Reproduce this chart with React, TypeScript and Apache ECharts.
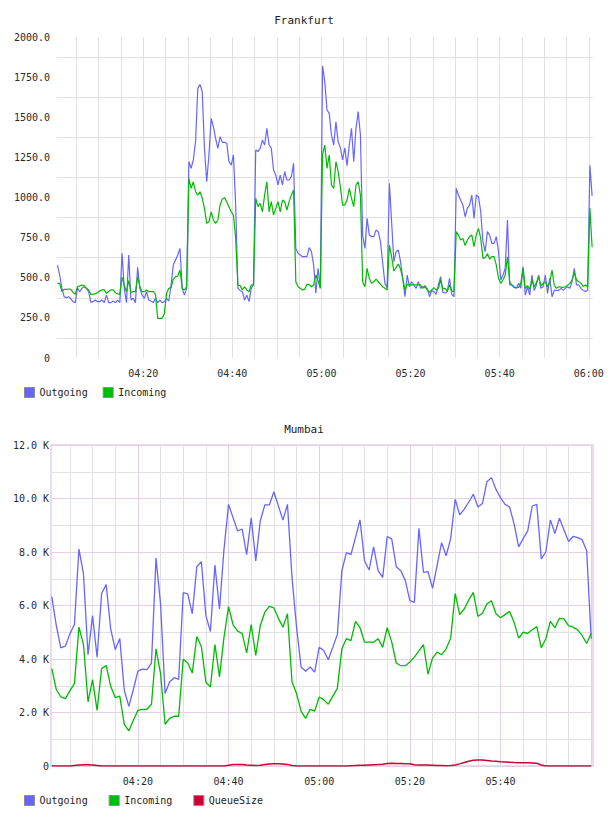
import { useEffect, useRef } from 'react';
import * as echarts from 'echarts';

// Frankfurt: one sample every 30 s
const FRA_START = '04:00:45';
const FRA_STEP_SEC = 30;
const fraOutgoing = [
  579, 517, 434, 382, 376, 382, 368, 351, 345, 438, 413,
  434, 444, 434, 413, 347, 351, 361, 351, 351, 361,
  345, 392, 345, 345, 355, 345, 361, 345, 652, 434,
  345, 642, 361, 372, 345, 565, 434, 392, 372, 413,
  361, 355, 345, 372, 345, 361, 345, 351, 372, 355,
  455, 579, 611, 642, 683, 434, 392, 434, 1223, 1182,
  1234, 1348, 1680, 1705, 1659, 1306, 1098, 1265, 1493, 1441,
  1369, 1306, 1379, 1344, 1344, 1338, 1223, 1202, 1265, 953,
  434, 421, 413, 361, 392, 351, 434, 455, 1296, 1286,
  1306, 1358, 1327, 1431, 1327, 1306, 1171, 1140, 1078, 1140,
  1078, 1161, 1109, 1109, 1130, 1213, 683, 652, 642, 631,
  631, 631, 688, 663, 579, 403, 559, 434, 1820, 1722,
  1545, 1524, 1389, 1327, 1472, 1348, 1310, 1234, 1310, 1198,
  1327, 1431, 1223, 1431, 1535, 1389, 766, 683, 870, 766,
  756, 756, 797, 787, 725, 590, 465, 438, 1088, 849,
  600, 663, 673, 600, 496, 382, 517, 444, 475, 455,
  434, 475, 434, 444, 438, 434, 382, 421, 413, 397,
  455, 507, 409, 405, 413, 496, 397, 382, 1057, 1015,
  984, 953, 880, 932, 953, 1015, 870, 1015, 1005, 911,
  725, 663, 787, 766, 714, 714, 756, 663, 486, 517,
  559, 860, 455, 455, 444, 434, 465, 434, 569, 392,
  444, 392, 517, 421, 455, 517, 434, 444, 517, 403,
  496, 382, 421, 421, 421, 434, 421, 434, 444, 434,
  475, 559, 455, 455, 434, 421, 415, 421, 1200, 1010,
];
const fraIncoming = [
  465, 465, 413, 428, 428, 430, 428, 409, 397, 444, 449,
  455, 451, 434, 424, 397, 397, 401, 407, 418, 424,
  424, 403, 415, 424, 424, 407, 399, 397, 503, 455,
  413, 482, 409, 413, 413, 507, 444, 413, 413, 424,
  413, 413, 415, 397, 247, 247, 247, 278, 403, 434,
  438, 492, 507, 511, 548, 434, 424, 444, 1119, 1057,
  1098, 1036, 1015, 1036, 995, 932, 839, 849, 911, 860,
  839, 860, 953, 991, 999, 974, 943, 911, 891, 745,
  455, 451, 424, 444, 424, 413, 455, 455, 995, 943,
  964, 911, 1015, 1098, 911, 974, 891, 932, 974, 911,
  984, 974, 922, 974, 1015, 1047, 475, 444, 434, 424,
  428, 459, 459, 444, 455, 517, 482, 434, 1265, 1327,
  1182, 1265, 1078, 1057, 1223, 1161, 1067, 953, 953, 984,
  1057, 995, 943, 1078, 1098, 1015, 475, 444, 559, 496,
  465, 475, 492, 475, 459, 444, 434, 424, 704, 631,
  542, 563, 586, 554, 496, 424, 459, 455, 455, 455,
  455, 455, 455, 434, 451, 424, 409, 424, 438, 424,
  434, 486, 430, 434, 417, 455, 417, 413, 787, 766,
  735, 745, 700, 735, 756, 766, 694, 766, 808, 745,
  621, 625, 650, 617, 631, 631, 579, 496, 465, 486,
  517, 631, 475, 455, 438, 438, 440, 465, 559, 434,
  451, 428, 486, 444, 469, 507, 449, 465, 475, 444,
  475, 548, 455, 434, 444, 442, 440, 444, 453, 465,
  486, 534, 486, 475, 465, 446, 455, 444, 934, 690,
];

// Mumbai: one sample every minute
const MUM_START = '04:01:00';
const MUM_STEP_SEC = 60;
const mumOutgoing = [
  6330, 5250, 4420, 4480, 4940, 5290, 8110, 7180, 4160, 5620,
  4070, 6450, 6780, 5130, 4350, 4770, 2830, 2230, 2860, 3550,
  3620, 3600, 3850, 7770, 6060, 2710, 3140, 3300, 3240, 6480,
  6430, 5690, 7450, 7640, 5620, 5030, 7510, 5870, 8110, 9780,
  9280, 8790, 8860, 7900, 9280, 7670, 9160, 9760, 9760, 10250,
  9720, 9190, 9780, 7050, 5190, 3700, 3540, 3700, 3510, 4440,
  4320, 3970, 4440, 4920, 7300, 7980, 7900, 8540, 9200, 7670,
  7330, 8190, 7300, 7050, 8580, 8480, 7450, 7300, 6930, 6180,
  6120, 8890, 7240, 7270, 6640, 7490, 8350, 7860, 8500, 9970,
  9390, 9600, 9870, 10160, 9680, 9810, 10630, 10780, 10340, 10030,
  9780, 9680, 9040, 8190, 8500, 8790, 9720, 9780, 7740, 8010,
  9200, 8690, 9260, 8820, 8390, 8580, 8540, 8460, 8050, 4760,
];
const mumIncoming = [
  3640, 2860, 2580, 2520, 2810, 3080, 5190, 4540, 2400, 3230,
  2080, 3640, 3760, 2980, 2560, 2610, 1560, 1310, 1710, 2080,
  2120, 2120, 2310, 4380, 3450, 1560, 1780, 1860, 1860, 3990,
  3850, 3480, 4840, 4470, 3140, 2950, 4540, 3330, 4820, 5960,
  5280, 5040, 4960, 4230, 5290, 4130, 5250, 5750, 5970, 5910,
  5520, 5190, 5690, 3140, 2710, 2050, 1780, 2120, 2050, 2580,
  2480, 2310, 2610, 2900, 4380, 4760, 4690, 5410, 5170, 4630,
  4630, 4630, 4760, 4440, 5170, 4630, 3850, 3750, 3750, 3890,
  4070, 4300, 4540, 3430, 4030, 4260, 4160, 4380, 4780, 6450,
  5660, 5870, 6210, 6490, 5590, 5710, 6060, 6180, 5690, 5540,
  5660, 5780, 5370, 4780, 5000, 4960, 5090, 5210, 4420, 4760,
  5410, 5170, 5520, 5500, 5250, 5190, 5090, 4880, 4580, 4960,
];
const mumQueue = [
  0, 0, 0, 0, 0, 20, 40, 50, 50, 40,
  20, 0, 0, 0, 0, 0, 0, 0, 0, 0,
  0, 0, 0, 0, 0, 0, 0, 0, 0, 0,
  0, 0, 0, 0, 0, 0, 0, 0, 0, 30,
  60, 60, 55, 40, 30, 20, 30, 60, 75, 80,
  80, 75, 60, 20, 0, 0, 0, 0, 0, 0,
  0, 0, 0, 0, 0, 0, 10, 20, 25, 30,
  40, 50, 55, 65, 90, 100, 95, 90, 85, 80,
  50, 40, 40, 35, 30, 20, 15, 10, 15, 40,
  80, 130, 180, 215, 220, 220, 210, 190, 175, 160,
  150, 140, 130, 125, 125, 120, 115, 100, 40, 0,
  0, 0, 0, 0, 0, 0, 0, 0, 0, 0,
];

// Time ranges shown on the x axes
const FRA_RANGE = ['04:00:39', '06:00:57'];
const MUM_RANGE = ['04:00:50', '06:00:24'];

// Vertical grid every five minutes, labels every twenty
const fiveMinuteMarks = [
  '04:05', '04:10', '04:15', '04:20', '04:25', '04:30', '04:35', '04:40',
  '04:45', '04:50', '04:55', '05:00', '05:05', '05:10', '05:15', '05:20',
  '05:25', '05:30', '05:35', '05:40', '05:45', '05:50', '05:55', '06:00',
];
const fraTimeLabels = ['04:20', '04:40', '05:00', '05:20', '05:40', '06:00'];
const mumMajorMarks = ['04:20', '04:40', '05:00', '05:20', '05:40', '06:00'];
const mumTimeLabels = ['04:20', '04:40', '05:00', '05:20', '05:40'];

const FONT = '"DejaVu Sans Mono", monospace';
const TEXT = '#2a2a2a';
const C_OUT = '#6666ff';
const C_IN = '#00bb00';
const C_QUEUE = '#cc0033';
const GREY = '#e2e2e2';
const PINK = '#e6cfe6';

// minutes after 04:00
const toMin = (s: string) => {
  const [h, m, sec] = s.split(':').map(Number);
  return (h - 4) * 60 + m + (sec || 0) / 60;
};
const pad = (n: number) => (n < 10 ? '0' + n : '' + n);
const fmtTime = (v: number) => {
  const t = Math.round(v);
  return pad(4 + Math.floor(t / 60)) + ':' + pad(t % 60);
};
const toPairs = (values: number[], start: string, stepSec: number) => {
  const t0 = toMin(start);
  return values.map((v, i) => [t0 + (i * stepSec) / 60, v]);
};

export default function App() {
  const ref = useRef<HTMLDivElement>(null);

  useEffect(() => {
    if (!ref.current) return;
    const chart = echarts.init(ref.current, null, { renderer: 'svg' });

    const labelStyle = { fontFamily: FONT, fontSize: 10, color: TEXT };
    const titleStyle = { fontFamily: FONT, fontSize: 11, fontWeight: 'normal' as const, color: '#222' };
    const legendBase = {
      icon: 'rect',
      itemWidth: 10,
      itemHeight: 10,
      itemStyle: { borderColor: '#8a8a8a', borderWidth: 1 },
      textStyle: { fontFamily: FONT, fontSize: 10, color: '#222' },
      selectedMode: false,
    };
    const lineSeries = (name: string, data: number[][], color: string, axis: number, xAxisIndex: number, width = 1.2) => ({
      name,
      type: 'line',
      xAxisIndex,
      yAxisIndex: axis,
      data,
      showSymbol: false,
      symbol: 'none',
      color,
      lineStyle: { color, width },
      emphasis: { disabled: true },
    });

    chart.setOption({
      animation: false,
      title: [
        { text: 'Frankfurt', left: 'center', top: 10, textStyle: titleStyle },
        { text: 'Mumbai', left: 'center', top: 419, textStyle: titleStyle },
      ],
      legend: [
        { ...legendBase, data: ['Outgoing', 'Incoming'], left: 19, top: 382, itemGap: 15 },
        { ...legendBase, data: ['Outgoing', 'Incoming', 'QueueSize'], left: 19, top: 790, itemGap: 21 },
      ],
      grid: [
        { left: 57, right: 15, top: 37, bottom: 458 },
        { left: 51, right: 15, top: 445, bottom: 50, show: true, borderColor: PINK, borderWidth: 1.5 },
      ],
      xAxis: [
        {
          gridIndex: 0,
          type: 'value',
          position: 'bottom',
          min: toMin(FRA_RANGE[0]),
          max: toMin(FRA_RANGE[1]),
          axisLine: { show: false },
          axisTick: { show: false, customValues: fiveMinuteMarks.map(toMin) },
          splitLine: { show: true, lineStyle: { color: GREY, width: 1 } },
          axisLabel: { ...labelStyle, margin: 10, customValues: fraTimeLabels.map(toMin), formatter: fmtTime },
        },
        {
          gridIndex: 1,
          type: 'value',
          position: 'bottom',
          min: toMin(MUM_RANGE[0]),
          max: toMin(MUM_RANGE[1]),
          axisLine: { show: false },
          axisTick: { show: false, customValues: fiveMinuteMarks.map(toMin) },
          splitLine: { show: true, lineStyle: { color: GREY, width: 1 } },
          axisLabel: { show: false },
        },
        {
          gridIndex: 1,
          type: 'value',
          position: 'bottom',
          offset: 0,
          min: toMin(MUM_RANGE[0]),
          max: toMin(MUM_RANGE[1]),
          axisLine: { show: false },
          axisTick: { show: false, customValues: mumMajorMarks.map(toMin) },
          splitLine: { show: true, lineStyle: { color: PINK, width: 1 } },
          axisLabel: { ...labelStyle, margin: 10, customValues: mumTimeLabels.map(toMin), formatter: fmtTime },
        },
      ],
      yAxis: [
        {
          gridIndex: 0,
          type: 'value',
          min: 0,
          max: 2000,
          interval: 250,
          axisLine: { show: false },
          axisTick: { show: false },
          splitLine: { show: false },
          minorTick: { show: false, splitNumber: 2 },
          minorSplitLine: { show: true, lineStyle: { color: GREY, width: 1 } },
          axisLabel: { ...labelStyle, margin: 7, formatter: (v: number) => (v === 0 ? '0' : v.toFixed(1)) },
        },
        {
          gridIndex: 1,
          type: 'value',
          min: 0,
          max: 12000,
          interval: 2000,
          axisLine: { show: false },
          axisTick: { show: false },
          splitLine: { show: true, lineStyle: { color: PINK, width: 1 } },
          minorTick: { show: false, splitNumber: 2 },
          minorSplitLine: { show: true, lineStyle: { color: GREY, width: 1 } },
          axisLabel: {
            ...labelStyle,
            margin: 2,
            formatter: (v: number) => (v === 0 ? '0' : (v / 1000).toFixed(1) + ' K'),
          },
        },
      ],
      series: [
        lineSeries('Outgoing', toPairs(fraOutgoing, FRA_START, FRA_STEP_SEC), C_OUT, 0, 0),
        lineSeries('Incoming', toPairs(fraIncoming, FRA_START, FRA_STEP_SEC), C_IN, 0, 0),
        lineSeries('Outgoing', toPairs(mumOutgoing, MUM_START, MUM_STEP_SEC), C_OUT, 1, 2, 1.3),
        lineSeries('Incoming', toPairs(mumIncoming, MUM_START, MUM_STEP_SEC), C_IN, 1, 2, 1.3),
        lineSeries('QueueSize', toPairs(mumQueue, MUM_START, MUM_STEP_SEC), C_QUEUE, 1, 2, 1.5),
      ],
    });

    return () => chart.dispose();
  }, []);

  return (
    <div
      ref={ref}
      style={{ position: 'absolute', left: 0, top: 0, width: 608, height: 816, background: '#fff' }}
    />
  );
}
